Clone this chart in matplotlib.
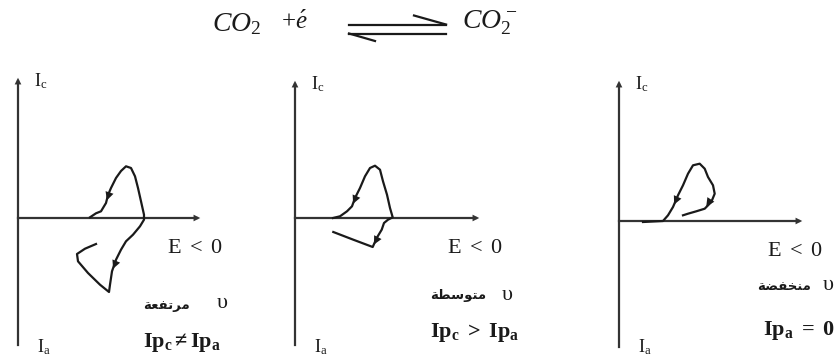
import numpy as np
import matplotlib.pyplot as plt

plt.rcParams['mathtext.fontset'] = 'custom'
plt.rcParams['mathtext.rm'] = 'Liberation Serif'
plt.rcParams['mathtext.it'] = 'Liberation Serif:italic'
plt.rcParams['mathtext.bf'] = 'Liberation Serif:bold'

# --- voltammogram traces (E to the right, I up, in drawing units from the origin) ---
# high scan rate: cathodic peak and a large anodic return loop
E_high = [72, 78, 83, 88, 90, 93, 98, 103, 108, 113, 117, 120, 123, 126, 126,
          122, 115, 108, 103, 98, 94, 92, 91, 82, 70, 60, 59, 67, 78]
I_high = [0.7, 4.7, 6.7, 15, 23, 30, 40, 47, 51.7, 50, 41.7, 30, 16.7, 3.3, -1.7,
          -8.3, -16.7, -23.3, -31.7, -41.7, -53.3, -66.7, -74, -66.7, -55, -43.3, -36, -30.7, -26]
# medium scan rate: smaller anodic return
E_mid = [38, 45, 52, 57, 60, 65, 70, 75, 80, 85, 88, 92, 95, 97.7,
         93, 89, 86.7, 81.7, 77.7, 58.3, 38.3]
I_mid = [0, 1.7, 6.7, 11.7, 20, 30, 41.7, 50, 52.3, 48.3, 36.7, 23.3, 10, 0.7,
         -1.7, -5, -11.7, -20, -29, -21.7, -14]
# low scan rate: no anodic peak
E_low = [24, 44, 49, 54, 59, 64, 69, 74, 80.7, 85.7, 89, 94, 95.7, 92.3, 85.7, 77.3, 69, 64]
I_low = [-1, 0, 5.7, 14, 25.7, 35.7, 47.3, 55.7, 57.3, 52.3, 44, 35.7, 27.3, 19, 12.3, 9.7, 7.3, 5.7]

speed_words = ['\uFE94\uFECC\uFED4\uFE97\uFEAE\uFEE3',   # مرتفعة
               '\uFE94\uFEC4\uFEB3\uFEEE\uFE98\uFEE3',   # متوسطة
               '\uFE94\uFEC0\uFED4\uFEA8\uFEE8\uFEE3']   # منخفضة
peak_labels = [r'$\mathbf{Ip_c\neq Ip_a}$',
               r'$\mathbf{Ip_c\ >\ Ip_a}$',
               r'$\mathbf{Ip_a\ =\ 0}$']

# direction markers: (index on trace, +1 along the trace / -1 against it)
arrow_marks = [[(4, -1), (19, 1)], [(4, -1), (17, 1)], [(4, -1), (13, 1)]]

# origin of each panel and extents of its axes (figure pixels)
origins = [(18, 218), (295, 218), (619, 221)]
x_tips = [203, 482, 805]
y_tops = [75, 78, 78]
y_bottoms = [345, 345, 347]

fig = plt.figure(figsize=(8.39, 3.62), dpi=100)
ax = fig.add_axes([0, 0, 1, 1])
ax.set_xlim(0, 839)
ax.set_ylim(362, 0)
ax.axis('off')

ink = '#1a1a1a'
axis_ink = '#333333'

# reaction header
ax.text(212, 23, r'$CO_2$', fontsize=20, color=ink, va='center', ha='left')
ax.text(281, 22, r'$+\acute{e}$', fontsize=18, color=ink, va='center', ha='left')
ax.text(462, 23, r'$CO_2^-$', fontsize=20, color=ink, va='center', ha='left')
ax.plot([349, 446], [24.5, 24.5], color=ink, lw=1.6)
ax.plot([446, 414], [24.5, 15.5], color=ink, lw=1.6)
ax.plot([349, 446], [33.5, 33.5], color=ink, lw=1.6)
ax.plot([349, 375], [33.5, 41], color=ink, lw=1.6)

traces = [(E_high, I_high), (E_mid, I_mid), (E_low, I_low)]

for k, ((ox, oy), (E, I)) in enumerate(zip(origins, traces)):
    # axes with arrowheads
    ax.plot([ox, ox], [y_bottoms[k], y_tops[k] + 6], color=axis_ink, lw=1.6)
    ax.annotate('', xy=(ox, y_tops[k]), xytext=(ox, y_tops[k] + 10),
                arrowprops=dict(arrowstyle='-|>', color=axis_ink, lw=0,
                                mutation_scale=12))
    ax.plot([ox, x_tips[k] - 6], [oy, oy], color=axis_ink, lw=1.6)
    ax.annotate('', xy=(x_tips[k], oy), xytext=(x_tips[k] - 10, oy),
                arrowprops=dict(arrowstyle='-|>', color=axis_ink, lw=0,
                                mutation_scale=12))

    x = ox + np.array(E, dtype=float)
    y = oy - np.array(I, dtype=float)
    ax.plot(x, y, color=ink, lw=1.6, solid_joinstyle='round')
    for i, d in arrow_marks[k]:
        ax.annotate('', xy=(x[i + d], y[i + d]), xytext=(x[i - d], y[i - d]),
                    arrowprops=dict(arrowstyle='-|>', color=ink, lw=0,
                                    mutation_scale=15))

    # axis names
    ax.text(ox + 16, y_tops[k] + 6, r'$\mathrm{I_c}$', fontsize=13, color=ink,
            va='center', ha='left')
    ax.text(ox + 19, 347, r'$\mathrm{I_a}$', fontsize=13, color=ink,
            va='center', ha='left')

# condition labels for each panel
e_pos = [(167, 247), (447, 247), (767, 250)]
word_pos = [(143, 305), (430, 296), (757, 287)]
u_pos = [(217, 304), (502, 295), (823, 286)]
peak_pos = [(143, 343), (430, 332), (763, 330)]
for k in range(3):
    ax.text(*e_pos[k], r'$\mathrm{E\ <\ 0}$', fontsize=16, color=ink,
            va='center', ha='left')
    ax.text(*word_pos[k], speed_words[k], fontsize=9.5, fontweight='bold',
            family='DejaVu Sans', color=ink, va='center', ha='left')
    ax.text(*u_pos[k], '\u03c5', fontsize=16, family='Liberation Serif',
            color=ink, va='center', ha='left')
    ax.text(*peak_pos[k], peak_labels[k], fontsize=16, color=ink,
            va='center', ha='left')

fig.savefig('out.png', dpi=100)
